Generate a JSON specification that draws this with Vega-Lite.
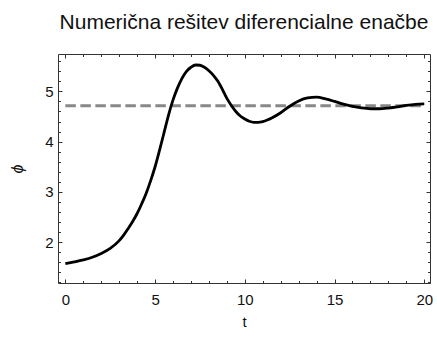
{
  "$schema": "https://vega.github.io/schema/vega-lite/v6.json",
  "autosize": "none",
  "width": 372,
  "height": 229,
  "padding": {"left": 58, "top": 54, "right": 7, "bottom": 57},
  "background": "white",
  "title": {
    "text": "Numerična rešitev diferencialne enačbe",
    "font": "Liberation Sans",
    "fontSize": 21,
    "fontWeight": "normal",
    "color": "#111",
    "frame": "group",
    "anchor": "middle",
    "baseline": "alphabetic",
    "offset": 4
  },
  "config": {
    "view": {"stroke": null},
    "axis": {
      "grid": false,
      "labelFont": "Liberation Sans",
      "titleFont": "Liberation Sans",
      "labelFontSize": 15,
      "titleFontSize": 15,
      "titleFontWeight": "normal",
      "labelColor": "#111",
      "titleColor": "#111",
      "domainColor": "#333",
      "tickColor": "#333",
      "tickWidth": 1
    }
  },
  "datasets": {
    "curve": [
      {"t": 0.0, "phi": 1.571},
      {"t": 0.5, "phi": 1.607},
      {"t": 1.0, "phi": 1.648},
      {"t": 1.5, "phi": 1.7},
      {"t": 2.0, "phi": 1.775},
      {"t": 2.5, "phi": 1.875},
      {"t": 3.0, "phi": 2.03},
      {"t": 3.25, "phi": 2.14},
      {"t": 3.5, "phi": 2.27},
      {"t": 3.75, "phi": 2.41},
      {"t": 4.0, "phi": 2.57},
      {"t": 4.25, "phi": 2.76},
      {"t": 4.5, "phi": 2.97},
      {"t": 4.75, "phi": 3.22},
      {"t": 5.0, "phi": 3.5},
      {"t": 5.25, "phi": 3.83},
      {"t": 5.5, "phi": 4.18},
      {"t": 5.75, "phi": 4.53},
      {"t": 6.0, "phi": 4.83},
      {"t": 6.25, "phi": 5.07},
      {"t": 6.5, "phi": 5.26},
      {"t": 6.75, "phi": 5.4},
      {"t": 7.0, "phi": 5.48},
      {"t": 7.25, "phi": 5.525},
      {"t": 7.5, "phi": 5.52},
      {"t": 7.75, "phi": 5.48},
      {"t": 8.0, "phi": 5.41},
      {"t": 8.25, "phi": 5.32},
      {"t": 8.5, "phi": 5.2},
      {"t": 8.75, "phi": 5.04},
      {"t": 9.0, "phi": 4.86},
      {"t": 9.25, "phi": 4.72},
      {"t": 9.5, "phi": 4.6},
      {"t": 9.75, "phi": 4.51},
      {"t": 10.0, "phi": 4.45},
      {"t": 10.25, "phi": 4.405},
      {"t": 10.5, "phi": 4.385},
      {"t": 10.75, "phi": 4.385},
      {"t": 11.0, "phi": 4.4},
      {"t": 11.25, "phi": 4.43},
      {"t": 11.5, "phi": 4.47},
      {"t": 12.0, "phi": 4.575},
      {"t": 12.5, "phi": 4.705},
      {"t": 13.0, "phi": 4.81},
      {"t": 13.5, "phi": 4.87},
      {"t": 14.0, "phi": 4.885},
      {"t": 14.5, "phi": 4.85},
      {"t": 15.0, "phi": 4.8},
      {"t": 15.5, "phi": 4.745},
      {"t": 16.0, "phi": 4.7},
      {"t": 16.5, "phi": 4.67},
      {"t": 17.0, "phi": 4.655},
      {"t": 17.5, "phi": 4.655},
      {"t": 18.0, "phi": 4.668},
      {"t": 18.5, "phi": 4.69},
      {"t": 19.0, "phi": 4.72},
      {"t": 19.5, "phi": 4.742},
      {"t": 20.0, "phi": 4.75}
    ],
    "eq": [{"t0": 0, "t1": 20, "phi": 4.712}]
  },
  "resolve": {"axis": {"x": "independent", "y": "independent"}},
  "layer": [
    {
      "data": {"name": "eq"},
      "mark": {"type": "rule", "stroke": "#888", "strokeWidth": 3, "strokeDash": [10.5, 4.5]},
      "encoding": {
        "x": {"field": "t0", "type": "quantitative", "scale": {"domain": [-0.41, 20.32], "nice": false, "zero": false},
          "axis": {"orient": "top", "values": [0, 5, 10, 15, 20], "labels": false, "tickSize": -4, "title": null, "domain": true}},
        "x2": {"field": "t1"},
        "y": {"field": "phi", "type": "quantitative", "scale": {"domain": [1.187, 5.744], "nice": false, "zero": false},
          "axis": {"orient": "right", "values": [2, 3, 4, 5], "labels": false, "tickSize": -4, "title": null, "domain": true}}
      }
    },
    {
      "data": {"name": "curve"},
      "mark": {"type": "line", "stroke": "black", "strokeWidth": 2.8, "interpolate": "monotone"},
      "encoding": {
        "x": {"field": "t", "type": "quantitative", "scale": {"domain": [-0.41, 20.32], "nice": false, "zero": false},
          "axis": {"orient": "bottom", "values": [0, 5, 10, 15, 20], "ticks": false, "labelPadding": 9, "labelFlush": false, "title": "t", "titlePadding": 7, "domain": true}},
        "y": {"field": "phi", "type": "quantitative", "scale": {"domain": [1.187, 5.744], "nice": false, "zero": false},
          "axis": {"orient": "left", "values": [2, 3, 4, 5], "ticks": false, "labelPadding": 5, "labelFlush": false, "title": "ϕ", "titleFontStyle": "italic", "titleFontSize": 16, "titlePadding": 19, "domain": true}}
      }
    },
    {
      "data": {"name": "curve"},
      "mark": {"type": "line", "opacity": 0},
      "encoding": {
        "x": {"field": "t", "type": "quantitative", "scale": {"domain": [-0.41, 20.32], "nice": false, "zero": false},
          "axis": {"orient": "bottom", "values": [0, 5, 10, 15, 20], "labels": false, "tickSize": -4, "title": null, "domain": false}},
        "y": {"field": "phi", "type": "quantitative", "scale": {"domain": [1.187, 5.744], "nice": false, "zero": false},
          "axis": {"orient": "left", "values": [2, 3, 4, 5], "labels": false, "tickSize": -4, "title": null, "domain": false}}
      }
    },
    {
      "data": {"name": "curve"},
      "mark": {"type": "line", "opacity": 0},
      "encoding": {
        "x": {"field": "t", "type": "quantitative", "scale": {"domain": [-0.41, 20.32], "nice": false, "zero": false},
          "axis": {"orient": "bottom", "values": [1, 2, 3, 4, 6, 7, 8, 9, 11, 12, 13, 14, 16, 17, 18, 19], "labels": false, "tickSize": -2.5, "title": null, "domain": false}},
        "y": {"field": "phi", "type": "quantitative", "scale": {"domain": [1.187, 5.744], "nice": false, "zero": false},
          "axis": {"orient": "left", "values": [1.2, 1.4, 1.6, 1.8, 2.2, 2.4, 2.6, 2.8, 3.2, 3.4, 3.6, 3.8, 4.2, 4.4, 4.6, 4.8, 5.2, 5.4, 5.6], "labels": false, "tickSize": -2.5, "title": null, "domain": false}}
      }
    },
    {
      "data": {"name": "curve"},
      "mark": {"type": "line", "opacity": 0},
      "encoding": {
        "x": {"field": "t", "type": "quantitative", "scale": {"domain": [-0.41, 20.32], "nice": false, "zero": false},
          "axis": {"orient": "top", "values": [1, 2, 3, 4, 6, 7, 8, 9, 11, 12, 13, 14, 16, 17, 18, 19], "labels": false, "tickSize": -2.5, "title": null, "domain": false}},
        "y": {"field": "phi", "type": "quantitative", "scale": {"domain": [1.187, 5.744], "nice": false, "zero": false},
          "axis": {"orient": "right", "values": [1.2, 1.4, 1.6, 1.8, 2.2, 2.4, 2.6, 2.8, 3.2, 3.4, 3.6, 3.8, 4.2, 4.4, 4.6, 4.8, 5.2, 5.4, 5.6], "labels": false, "tickSize": -2.5, "title": null, "domain": false}}
      }
    }
  ]
}
